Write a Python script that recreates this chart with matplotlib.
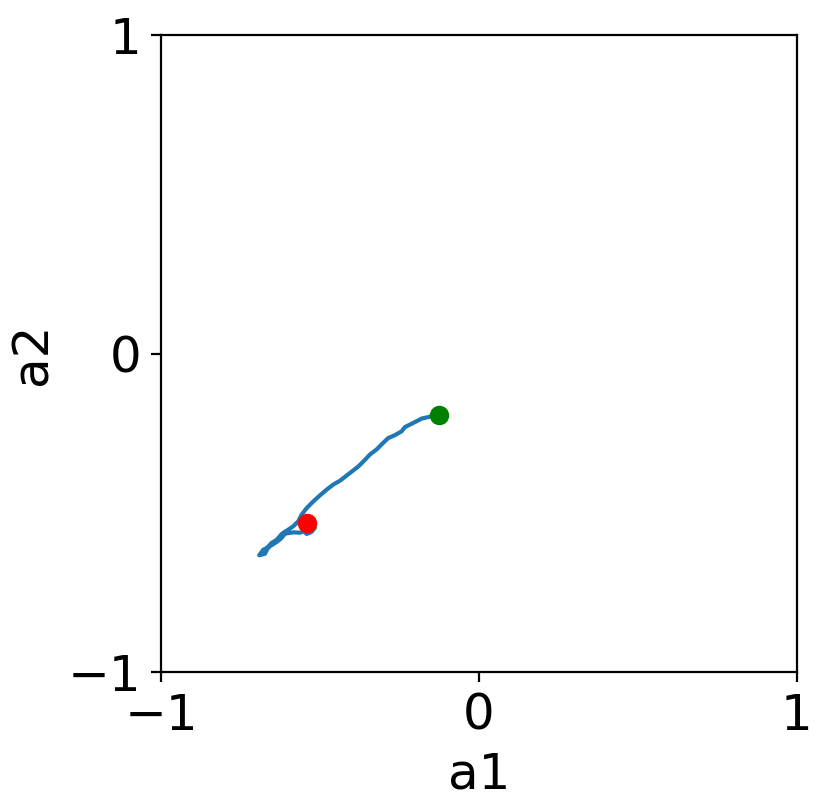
import matplotlib
matplotlib.use("Agg")
import matplotlib.pyplot as plt

# trajectory in (a1, a2)
a1 = [-0.125, -0.149, -0.180, -0.207, -0.233, -0.243, -0.264, -0.285, -0.301, -0.322,
      -0.343, -0.358, -0.379, -0.406, -0.437, -0.458, -0.479, -0.500, -0.521, -0.542,
      -0.558, -0.568, -0.584, -0.605, -0.612, -0.620, -0.636, -0.645, -0.652, -0.662,
      -0.670, -0.678, -0.691, -0.673, -0.665, -0.658, -0.636, -0.622, -0.610, -0.584,
      -0.563, -0.550, -0.542, -0.527, -0.516, -0.527, -0.540]
a2 = [-0.194, -0.197, -0.204, -0.218, -0.231, -0.244, -0.256, -0.265, -0.280, -0.301,
      -0.317, -0.333, -0.354, -0.375, -0.399, -0.411, -0.427, -0.445, -0.464, -0.485,
      -0.506, -0.526, -0.542, -0.556, -0.560, -0.566, -0.584, -0.590, -0.594, -0.605,
      -0.612, -0.615, -0.633, -0.628, -0.612, -0.605, -0.591, -0.580, -0.565, -0.561,
      -0.562, -0.558, -0.566, -0.560, -0.547, -0.532, -0.532]
start = (-0.125, -0.194)
end = (-0.540, -0.532)

fig = plt.figure(figsize=(4.15, 4.045), dpi=200)
ax = fig.add_axes([0.194, 0.169, 0.766, 0.788])
ax.plot(a1, a2, color="#1f77b4", lw=1.5)
ax.plot(*start, "o", color="green", ms=6)
ax.plot(*end, "o", color="red", ms=6)
ax.set_xlim(-1, 1)
ax.set_ylim(-1, 1)
ax.set_xticks([-1, 0, 1])
ax.set_yticks([-1, 0, 1])
ax.tick_params(labelsize=18)
ax.set_xlabel("a1", fontsize=18)
ax.set_ylabel("a2", fontsize=18)
fig.savefig("out.png")
